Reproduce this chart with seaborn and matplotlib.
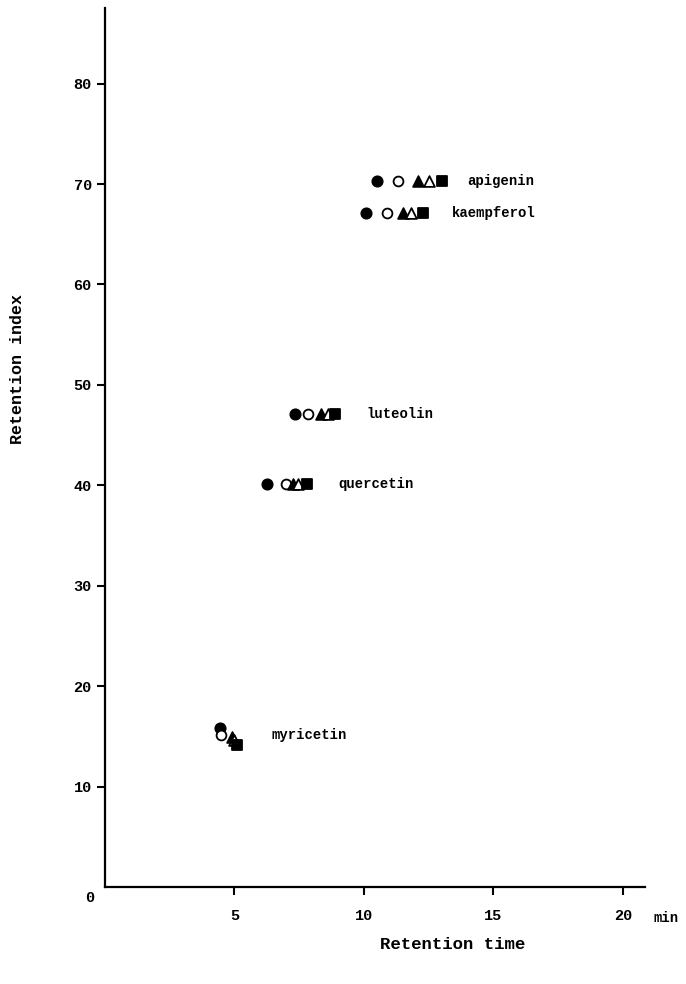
import matplotlib
matplotlib.use("Agg")
import matplotlib.pyplot as plt
import seaborn as sns
import pandas as pd

# ---- data ----
compounds = ["apigenin", "kaempferol", "luteolin", "quercetin", "myricetin"]
retention_index = [70.3, 67.1, 47.1, 40.1, 15.1]
series_names = ["s1", "s2", "s3", "s4", "s5"]
rt_s1 = [10.5, 10.1, 7.35, 6.25, 4.45]   # filled circle
rt_s2 = [11.3, 10.9, 7.85, 7.0, 4.5]     # open circle
rt_s3 = [12.1, 11.5, 8.35, 7.25, 4.9]    # filled triangle
rt_s4 = [12.5, 11.8, 8.6, 7.45, 5.0]     # open triangle
rt_s5 = [13.0, 12.3, 8.9, 7.8, 5.1]      # filled square
ri_myricetin = [15.8, 15.1, 14.9, 14.6, 14.1]
label_x = [14.0, 13.4, 10.1, 9.0, 6.45]
x_ticks = [5, 10, 15, 20]
y_ticks = [10, 20, 30, 40, 50, 60, 70, 80]

rows = []
for s, rts in zip(series_names, [rt_s1, rt_s2, rt_s3, rt_s4, rt_s5]):
    for i, c in enumerate(compounds):
        y = retention_index[i]
        if c == "myricetin":
            y = ri_myricetin[series_names.index(s)]
        rows.append({"compound": c, "series": s, "rt": rts[i], "ri": y})
df = pd.DataFrame(rows)

sns.set_theme(style="ticks")
mono = ["Liberation Mono", "DejaVu Sans Mono"]
plt.rcParams["font.family"] = mono
plt.rcParams["text.color"] = "black"
plt.rcParams["xtick.color"] = "black"
plt.rcParams["ytick.color"] = "black"

fig = plt.figure(figsize=(6.86, 9.84), dpi=100)
ax = fig.add_axes([0.153, 0.0986, 0.787, 0.893])

styles = {
    "s1": dict(marker="o", facecolor="black", s=55),
    "s2": dict(marker="o", facecolor="white", s=50),
    "s3": dict(marker="^", facecolor="black", s=60),
    "s4": dict(marker="^", facecolor="white", s=60),
    "s5": dict(marker="s", facecolor="black", s=45),
}
for s in series_names:
    st = styles[s]
    sns.scatterplot(data=df[df["series"] == s], x="rt", y="ri", ax=ax,
                    marker=st["marker"], s=st["s"], color=st["facecolor"],
                    edgecolor="black", linewidth=1.3, zorder=3, legend=False)

for c, lx, ly in zip(compounds, label_x, retention_index):
    ax.text(lx, ly, c, fontsize=10, fontweight="bold", va="center", ha="left",
            family=mono, color="black")

ax.set_xlim(0, 20.85)
ax.set_ylim(0, 87.5)
ax.set_xticks(x_ticks)
ax.set_yticks(y_ticks)
ax.set_xticklabels([str(t) for t in x_ticks], fontsize=11, fontweight="bold")
ax.set_yticklabels([str(t) for t in y_ticks], fontsize=11, fontweight="bold")
ax.tick_params(axis="both", direction="out", length=6, width=1.5,
               color="black", labelcolor="black")
ax.tick_params(axis="x", pad=10)
for side in ["top", "right"]:
    ax.spines[side].set_visible(False)
for side in ["left", "bottom"]:
    ax.spines[side].set_linewidth(1.6)
    ax.spines[side].set_color("black")

ax.set_xlabel("")
ax.set_ylabel("")
fig.text(0.131, 0.087, "0", fontsize=11, fontweight="bold", ha="center", va="center")
fig.text(0.952, 0.067, "min", fontsize=10, fontweight="bold", ha="left", va="center")
fig.text(0.660, 0.040, "Retention time", fontsize=12.5, fontweight="bold",
         ha="center", va="center")
fig.text(0.026, 0.625, "Retention index", fontsize=12, fontweight="bold",
         ha="center", va="center", rotation=90)

fig.savefig("out.png", dpi=100, facecolor="white")
